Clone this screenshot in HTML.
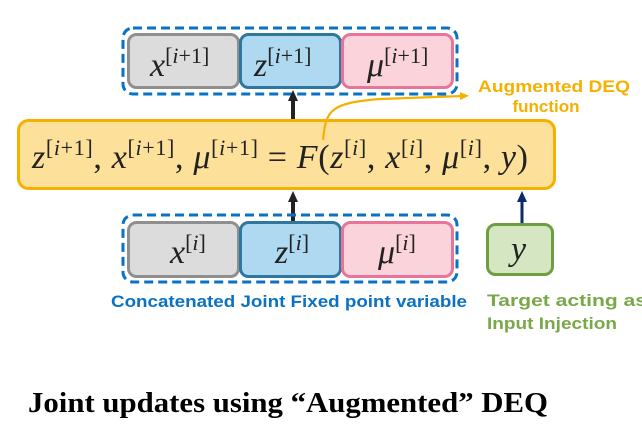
<!DOCTYPE html>
<html><head><meta charset="utf-8"><style>
html,body{margin:0;padding:0;background:#fff;}
svg{display:block;}
.m{font-family:"Liberation Serif",serif;font-style:italic;fill:#222;}
</style></head><body>
<svg width="642" height="443" viewBox="0 0 642 443" xmlns="http://www.w3.org/2000/svg">
<defs>
<marker id="ab" markerWidth="11" markerHeight="10" refX="2" refY="5" orient="auto" markerUnits="userSpaceOnUse"><path d="M0,0 L11,5 L0,10 z" fill="#222"/></marker>
<marker id="an" markerWidth="11" markerHeight="10" refX="2" refY="5" orient="auto" markerUnits="userSpaceOnUse"><path d="M0,0 L11,5 L0,10 z" fill="#0a2a6a"/></marker>
<marker id="ao" markerWidth="9" markerHeight="8" refX="2" refY="4" orient="auto" markerUnits="userSpaceOnUse"><path d="M0,0 L9,4 L0,8 z" fill="#f5b000"/></marker>
</defs>
<rect x="123" y="28" width="334" height="66" rx="10" fill="none" stroke="#0a72c4" stroke-width="3" stroke-dasharray="9,5"/>
<rect x="128.5" y="34.5" width="110" height="53" rx="8" fill="#dcdcdc" stroke="#8f8f8f" stroke-width="3"/>
<rect x="240.5" y="34.5" width="100" height="53" rx="8" fill="#aed9f0" stroke="#2e78a0" stroke-width="3"/>
<rect x="342.5" y="34.5" width="110" height="53" rx="8" fill="#fbd3da" stroke="#e8749a" stroke-width="3"/>
<text x="150" y="76" class="m" font-size="34">x<tspan font-size="22" dy="-13" font-style="normal">[</tspan><tspan font-size="22">i</tspan><tspan font-size="22" font-style="normal">+1]</tspan></text>
<text x="254" y="76" class="m" font-size="34">z<tspan font-size="22" dy="-13" font-style="normal">[</tspan><tspan font-size="22">i</tspan><tspan font-size="22" font-style="normal">+1]</tspan></text>
<text x="367" y="76" class="m" font-size="34">μ<tspan font-size="22" dy="-13" font-style="normal">[</tspan><tspan font-size="22">i</tspan><tspan font-size="22" font-style="normal">+1]</tspan></text>
<line x1="293" y1="119" x2="293" y2="99" stroke="#222" stroke-width="4" marker-end="url(#ab)"/>
<rect x="18.5" y="120.5" width="536" height="68" rx="10" fill="#fde09a" stroke="#f5b000" stroke-width="3"/>
<text x="32" y="168" class="m" font-size="34" textLength="496" lengthAdjust="spacing">z<tspan font-size="22" dy="-13" font-style="normal">[</tspan><tspan font-size="22">i</tspan><tspan font-size="22" font-style="normal">+1]</tspan><tspan dy="13" font-style="normal">, </tspan>x<tspan font-size="22" dy="-13" font-style="normal">[</tspan><tspan font-size="22">i</tspan><tspan font-size="22" font-style="normal">+1]</tspan><tspan dy="13" font-style="normal">, </tspan>μ<tspan font-size="22" dy="-13" font-style="normal">[</tspan><tspan font-size="22">i</tspan><tspan font-size="22" font-style="normal">+1]</tspan><tspan dy="13" font-style="normal"> = </tspan>F<tspan font-style="normal">(</tspan>z<tspan font-size="22" dy="-13" font-style="normal">[</tspan><tspan font-size="22">i</tspan><tspan font-size="22" font-style="normal">]</tspan><tspan dy="13" font-style="normal">, </tspan>x<tspan font-size="22" dy="-13" font-style="normal">[</tspan><tspan font-size="22">i</tspan><tspan font-size="22" font-style="normal">]</tspan><tspan dy="13" font-style="normal">, </tspan>μ<tspan font-size="22" dy="-13" font-style="normal">[</tspan><tspan font-size="22">i</tspan><tspan font-size="22" font-style="normal">]</tspan><tspan dy="13" font-style="normal">, </tspan>y<tspan font-style="normal">)</tspan></text>
<path d="M323,140 C326,110 330,103 380,99 L462,96" fill="none" stroke="#f5b000" stroke-width="2.2" marker-end="url(#ao)"/>
<text x="478" y="92" font-family="Liberation Sans,sans-serif" font-weight="bold" font-size="17" fill="#f5b000" textLength="152" lengthAdjust="spacingAndGlyphs">Augmented DEQ</text>
<text x="546" y="112" text-anchor="middle" font-family="Liberation Sans,sans-serif" font-weight="bold" font-size="17" fill="#f5b000">function</text>
<line x1="293" y1="222" x2="293" y2="200" stroke="#222" stroke-width="4" marker-end="url(#ab)"/>
<rect x="123" y="215" width="334" height="67" rx="10" fill="none" stroke="#0a72c4" stroke-width="3" stroke-dasharray="9,5"/>
<rect x="128.5" y="222.5" width="110" height="54" rx="8" fill="#dcdcdc" stroke="#8f8f8f" stroke-width="3"/>
<rect x="240.5" y="222.5" width="100" height="54" rx="8" fill="#aed9f0" stroke="#2e78a0" stroke-width="3"/>
<rect x="342.5" y="222.5" width="110" height="54" rx="8" fill="#fbd3da" stroke="#e8749a" stroke-width="3"/>
<text x="170" y="263" class="m" font-size="34">x<tspan font-size="22" dy="-13" font-style="normal">[</tspan><tspan font-size="22">i</tspan><tspan font-size="22" font-style="normal">]</tspan></text>
<text x="275" y="263" class="m" font-size="34">z<tspan font-size="22" dy="-13" font-style="normal">[</tspan><tspan font-size="22">i</tspan><tspan font-size="22" font-style="normal">]</tspan></text>
<text x="378" y="263" class="m" font-size="34">μ<tspan font-size="22" dy="-13" font-style="normal">[</tspan><tspan font-size="22">i</tspan><tspan font-size="22" font-style="normal">]</tspan></text>
<text x="289" y="307" text-anchor="middle" font-family="Liberation Sans,sans-serif" font-weight="bold" font-size="17" fill="#0a72c4" textLength="356" lengthAdjust="spacingAndGlyphs">Concatenated Joint Fixed point variable</text>
<line x1="522" y1="224" x2="522" y2="200" stroke="#0a2a6a" stroke-width="3" marker-end="url(#an)"/>
<rect x="487.5" y="224.5" width="65" height="50" rx="8" fill="#d4e7c2" stroke="#6e9e40" stroke-width="3"/>
<text x="511" y="260" class="m" font-size="34">y</text>
<text x="487" y="306" font-family="Liberation Sans,sans-serif" font-weight="bold" font-size="17" fill="#78a848" textLength="160" lengthAdjust="spacingAndGlyphs">Target acting as</text>
<text x="487" y="329" font-family="Liberation Sans,sans-serif" font-weight="bold" font-size="17" fill="#78a848" textLength="130" lengthAdjust="spacingAndGlyphs">Input Injection</text>
<text x="28" y="412" font-family="Liberation Serif,serif" font-weight="bold" font-size="28" fill="#000" textLength="520" lengthAdjust="spacingAndGlyphs">Joint updates using “Augmented” DEQ</text>
</svg>
</body></html>
